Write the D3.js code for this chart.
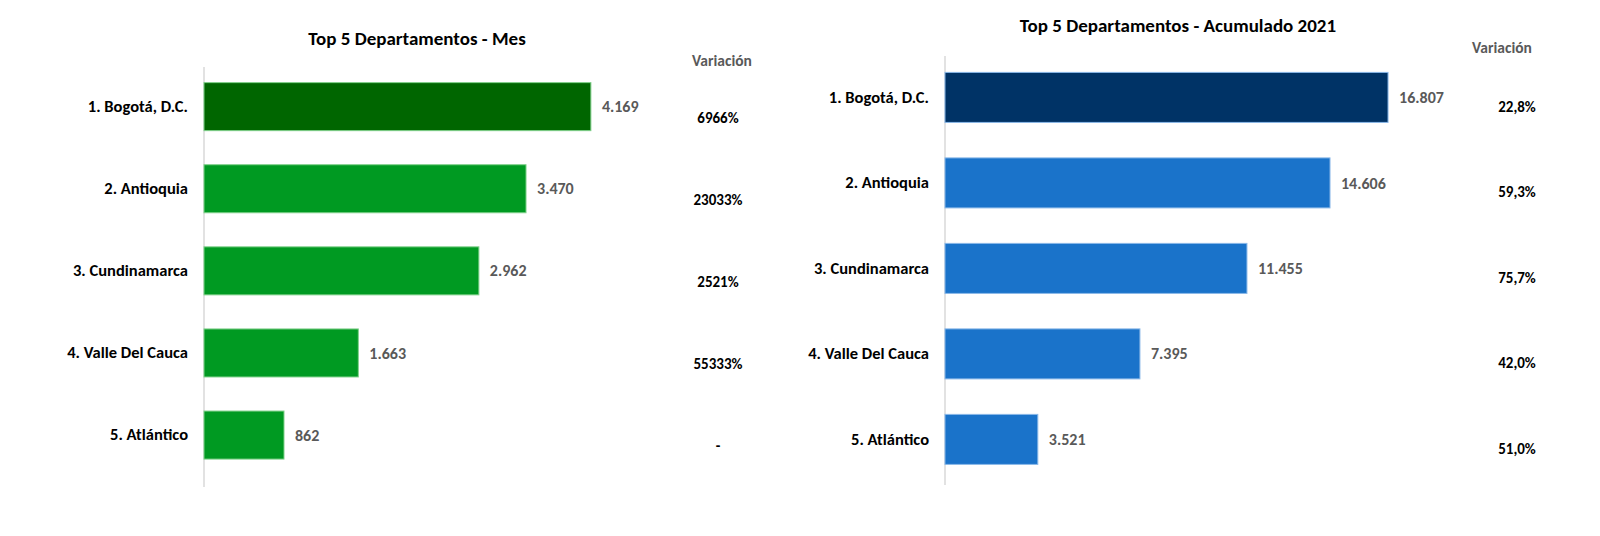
<!DOCTYPE html>
<html>
<head>
<meta charset="utf-8">
<script src="https://cdn.jsdelivr.net/npm/d3@7"></script>
<style>
  body { margin: 0; background: #fff; }
  svg text { font-family: Carlito, Calibri, Lato, sans-serif; }
</style>
</head>
<body>
<div id="chart"></div>
<script>
'use strict';

// data
var departamentos = ['1. Bogotá, D.C.', '2. Antioquia', '3. Cundinamarca', '4. Valle Del Cauca', '5. Atlántico'];
var mesValores = [4169, 3470, 2962, 1663, 862];
var mesVariacion = ['6966%', '23033%', '2521%', '55333%', '-'];
var acumValores = [16807, 14606, 11455, 7395, 3521];
var acumVariacion = ['22,8%', '59,3%', '75,7%', '42,0%', '51,0%'];

var fmt = d3.formatLocale({ decimal: ',', thousands: '.', grouping: [3], currency: ['', ''] }).format(',d');

var svg = d3.select('#chart')
  .append('svg')
  .attr('width', 1600)
  .attr('height', 536);

function drawPanel(opts) {
  var data = departamentos.map(function (d, i) {
    return { Label: d, Count: opts.values[i], Var: opts.variacion[i] };
  });

  var x = d3.scaleLinear().domain([0, 1]).range([opts.x0, opts.x0 + opts.pxPerUnit]);
  var y = d3.scaleBand()
    .domain(departamentos)
    .range(opts.yRange)
    .paddingInner(0.415)
    .paddingOuter(0.2);

  var g = svg.append('g');

  // title
  g.append('text')
    .attr('x', opts.titleX)
    .attr('y', opts.titleY)
    .attr('text-anchor', 'middle')
    .style('font-size', '19px')
    .style('font-weight', 'bold')
    .style('fill', '#000')
    .text(opts.title);

  // axis (categories)
  var yAxis = d3.axisLeft(y).tickSize(0).tickPadding(16);
  var ax = g.append('g')
    .attr('transform', 'translate(' + opts.x0 + ',0)')
    .call(yAxis);
  ax.select('.domain').remove();
  ax.attr('font-family', null);
  ax.selectAll('text')
    .style('font-size', '16.5px')
    .style('font-weight', 'bold')
    .style('fill', '#000');

  g.append('line')
    .attr('x1', opts.x0).attr('x2', opts.x0)
    .attr('y1', opts.axisY[0]).attr('y2', opts.axisY[1])
    .style('stroke', '#d9d9d9')
    .style('stroke-width', 1.5);

  // bars
  g.selectAll('rect.bar')
    .data(data)
    .enter().append('rect')
    .attr('class', 'bar')
    .attr('x', x(0))
    .attr('y', function (d) { return y(d.Label); })
    .attr('width', function (d) { return x(d.Count) - x(0); })
    .attr('height', y.bandwidth())
    .style('fill', function (d, i) { return i === 0 ? opts.topColor : opts.color; })
    .style('stroke', opts.stroke)
    .style('stroke-width', 1);

  // value labels
  g.selectAll('text.val')
    .data(data)
    .enter().append('text')
    .attr('class', 'val')
    .attr('x', function (d) { return x(d.Count) + 11; })
    .attr('y', function (d) { return y(d.Label) + y.bandwidth() / 2; })
    .attr('dy', '0.35em')
    .style('font-size', '16px')
    .style('font-weight', 'bold')
    .style('fill', '#595959')
    .text(function (d) { return fmt(d.Count); });

  // variacion column
  g.append('text')
    .attr('x', opts.varHeadX)
    .attr('y', opts.varHeadY)
    .attr('text-anchor', 'middle')
    .style('font-size', '15.5px')
    .style('font-weight', 'bold')
    .style('fill', '#595959')
    .text('Variación');

  g.selectAll('text.var')
    .data(data)
    .enter().append('text')
    .attr('class', 'var')
    .attr('x', opts.varX)
    .attr('y', function (d) { return y(d.Label) + y.bandwidth() / 2 + opts.varOffset; })
    .attr('dy', '0.35em')
    .attr('text-anchor', 'middle')
    .style('font-size', '15px')
    .style('font-weight', 'bold')
    .style('fill', '#000')
    .text(function (d) { return d.Var; });
}

drawPanel({
  title: 'Top 5 Departamentos - Mes',
  titleX: 417, titleY: 44.5,
  values: mesValores, variacion: mesVariacion,
  x0: 204, pxPerUnit: 0.0928,
  yRange: [66.2, 475.5], axisY: [67, 487],
  color: '#009a22', topColor: '#006600', stroke: '#7fd08a',
  varHeadX: 722, varHeadY: 66, varX: 718, varOffset: 11
});

drawPanel({
  title: 'Top 5 Departamentos - Acumulado 2021',
  titleX: 1178, titleY: 32,
  values: acumValores, variacion: acumVariacion,
  x0: 945, pxPerUnit: 0.02636,
  yRange: [55.3, 481.5], axisY: [56, 485],
  color: '#1a73ca', topColor: '#003366', stroke: '#8ab8e8',
  varHeadX: 1502, varHeadY: 53, varX: 1517, varOffset: 9
});
</script>
</body>
</html>
